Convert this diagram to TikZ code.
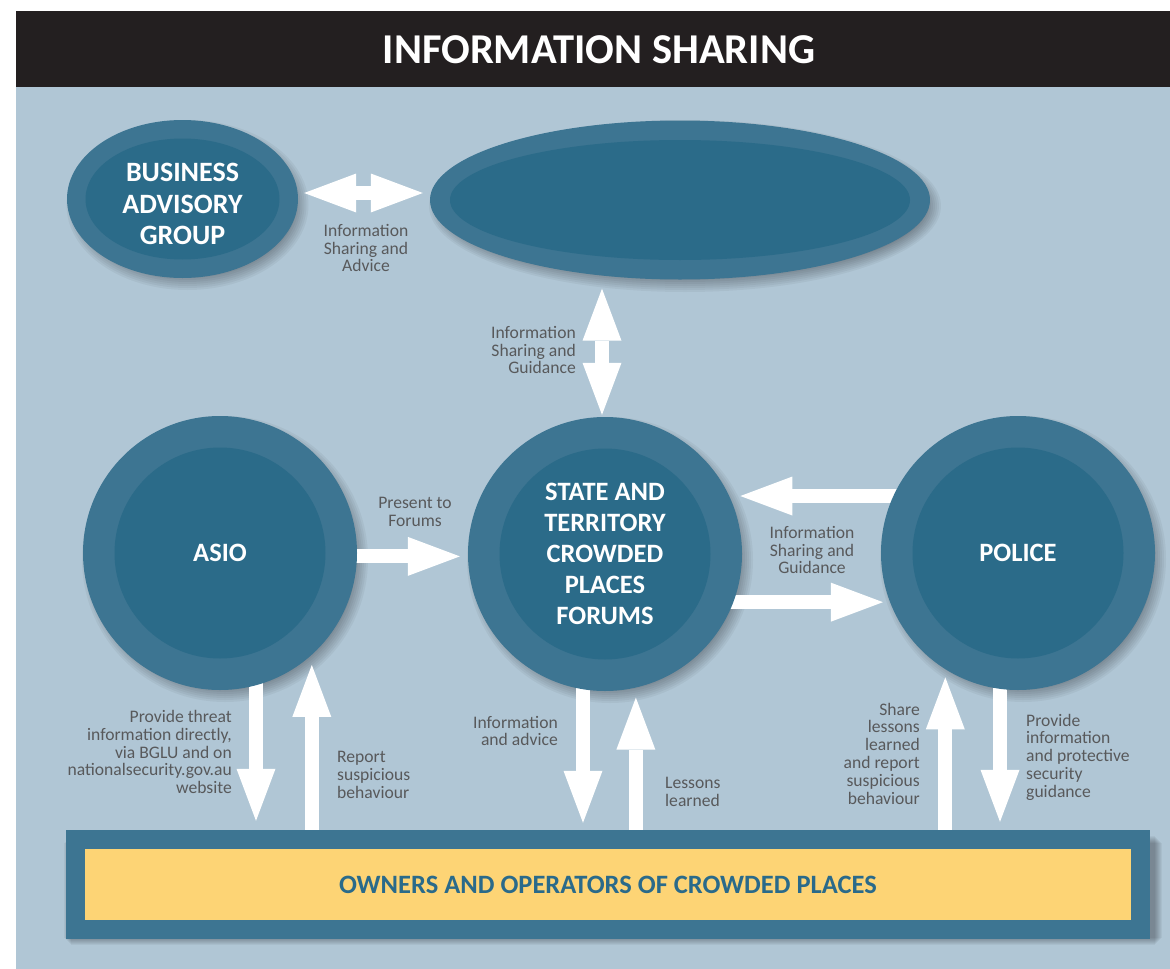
\documentclass[tikz,border=0pt]{standalone}
\usepackage{fontspec}
\setmainfont{Carlito}
\usetikzlibrary{arrows.meta,shapes.geometric}

\definecolor{panel}{HTML}{B0C6D5}
\definecolor{ring}{HTML}{3D7592}
\definecolor{core}{HTML}{2B6B89}
\definecolor{banner}{HTML}{231F20}
\definecolor{notegray}{HTML}{58595B}
\definecolor{gold}{HTML}{FDD475}
\definecolor{ink}{HTML}{2A6A8A}

\pgfdeclarelayer{back}
\pgfdeclarelayer{mid}
\pgfsetlayers{back,mid,main}

\tikzset{
  haze/.style={black,opacity=.045},
  agency/.style={circle,fill=ring,inner sep=0pt,minimum size=274pt,
    text=white,align=center,font=\fontsize{26.5}{31}\selectfont\bfseries,
    path picture={\fill[core] (path picture bounding box.center) circle (105.5pt);}},
  note/.style={text=notegray,inner sep=0pt,font=\fontsize{17.6}{17.8}\selectfont},
  flow/.style={draw=white,line width=14pt,-{Triangle[length=52pt,width=39pt,line width=0pt]}},
  flowboth/.style={draw=white,line width=14pt,
    {Triangle[length=52pt,width=39pt,line width=0pt]}-{Triangle[length=52pt,width=39pt,line width=0pt]}},
}

\begin{document}
\begin{tikzpicture}[x=1pt,y=-1pt]
  \useasboundingbox (0,0) rectangle (1170,969);
  \begin{pgfonlayer}{back}
    \fill[banner] (16,11) rectangle (1170,87);
    \fill[panel] (16,87) rectangle (1170,969);
  \end{pgfonlayer}
  \node[text=white,font=\fontsize{42.5}{42.5}\selectfont\bfseries] (title) at (599,50) {INFORMATION SHARING};

  % top row
  \node[ellipse,fill=ring,inner sep=0pt,minimum width=231pt,minimum height=158pt,
        text=white,font=\fontsize{28}{31.5}\selectfont\bfseries,
        path picture={\fill[core] (path picture bounding box.center) ellipse [x radius=97pt,y radius=60.5pt];}]
        (bag) at (182.5,199) {\raisebox{-14pt}[0pt][0pt]{\begin{tabular}{@{}c@{}}BUSINESS\\ADVISORY\\GROUP\end{tabular}}};
  \node[ellipse,fill=ring,inner sep=0pt,minimum width=500pt,minimum height=159pt,
        path picture={\fill[core] (path picture bounding box.center) ellipse [x radius=230pt,y radius=60pt];}]
        (board) at (680,200) {};

  % middle row
  \node[agency] (asio) at (220,553) {ASIO};
  \node[agency] (forum) at (605,554) {STATE AND\\TERRITORY\\CROWDED\\PLACES\\FORUMS};
  \node[agency] (police) at (1018,553) {POLICE};

  % bottom box
  \node[rectangle,fill=ring,inner sep=0pt,minimum width=1084pt,minimum height=109pt,
        text=ink,font=\fontsize{26.5}{30}\selectfont\bfseries,
        path picture={\fill[gold] ([shift={(19pt,19pt)}]path picture bounding box.south west)
                      rectangle ([shift={(-19pt,-19pt)}]path picture bounding box.north east);}]
        (owners) at (608,884.5) {OWNERS AND OPERATORS OF CROWDED PLACES};

  \begin{pgfonlayer}{mid}
    % soft shadows
    \foreach \k in {0,...,7} {
      \foreach \n in {asio,forum,police}
        \fill[haze] ([shift={(5pt,-6pt)}]\n.center) circle[radius={(129+2*\k)*1pt}];
      \fill[haze] ([shift={(5pt,-6pt)}]bag.center) ellipse [x radius={(107+2*\k)*1pt},y radius={(71+2*\k)*1pt}];
      \fill[haze] ([shift={(5pt,-6pt)}]board.center) ellipse [x radius={(242+2*\k)*1pt},y radius={(72+2*\k)*1pt}];
      \fill[haze] ([shift={(5pt-\k pt,-6pt+\k pt)}]owners.south west) rectangle ([shift={(5pt+\k pt,-6pt-\k pt)}]owners.north east);
    }
    \draw[flowboth,shorten <=6pt,shorten >=7pt] ([yshift=6pt]bag.east) -- ([yshift=6pt]board.west |- bag.east);
    \draw[flowboth,shorten <=9pt,shorten >=2pt] ([xshift=-3pt]forum.north |- board.south) -- ([xshift=-3pt]forum.north);
    \draw[flow,shorten >=8pt] (asio.center |- forum.181) -- (forum.181);
    \draw[flow,shorten >=11pt] (police.center |- forum.25) -- (forum.25);
    \draw[flow,shorten >=7pt] (forum.center |- police.201) -- (police.201);
    % to and from the owners
    \draw[flow,shorten >=9pt] ([xshift=36pt]asio.center) -- ([xshift=36pt]asio.center |- owners.north);
    \draw[flow,shorten >=10pt] (owners.north -| asio.-48) -- (asio.-48);
    \draw[flow,shorten >=7pt] ([xshift=-22pt]forum.center) -- ([xshift=-22pt]forum.center |- owners.north);
    \draw[flow,shorten >=10pt] (owners.north -| forum.-77) -- (forum.-77);
    \draw[flow,shorten >=8pt] (owners.north -| police.238) -- (police.238);
    \draw[flow,shorten >=8pt] ([xshift=-18pt]police.center) -- ([xshift=-18pt]police.center |- owners.north);
  \end{pgfonlayer}

  % labels
  \node[note,align=center] (l1) at (366,248) {Information\\Sharing and\\Advice};
  \node[note,align=right,anchor=east] (l2) at (576,350) {Information\\Sharing and\\Guidance};
  \node[note,align=center] (l3) at (415,512) {Present to\\Forums};
  \node[note,align=center] (l4) at (812,550) {Information\\Sharing and\\Guidance};
  \node[note,align=right,anchor=east] (l5) at (232,752) {Provide threat\\information directly,\\via BGLU and on\\nationalsecurity.gov.au\\website};
  \node[note,align=left,anchor=west] (l6) at (337,775) {Report\\suspicious\\behaviour};
  \node[note,align=right,anchor=east] (l7) at (558,731) {Information\\and advice};
  \node[note,align=left,anchor=west] (l8) at (665,792) {Lessons\\learned};
  \node[note,align=right,anchor=east] (l9) at (920,753.5) {Share\\lessons\\learned\\and report\\suspicious\\behaviour};
  \node[note,align=left,anchor=west] (l10) at (1026,757) {Provide\\information\\and protective\\security\\guidance};
\end{tikzpicture}
\end{document}
